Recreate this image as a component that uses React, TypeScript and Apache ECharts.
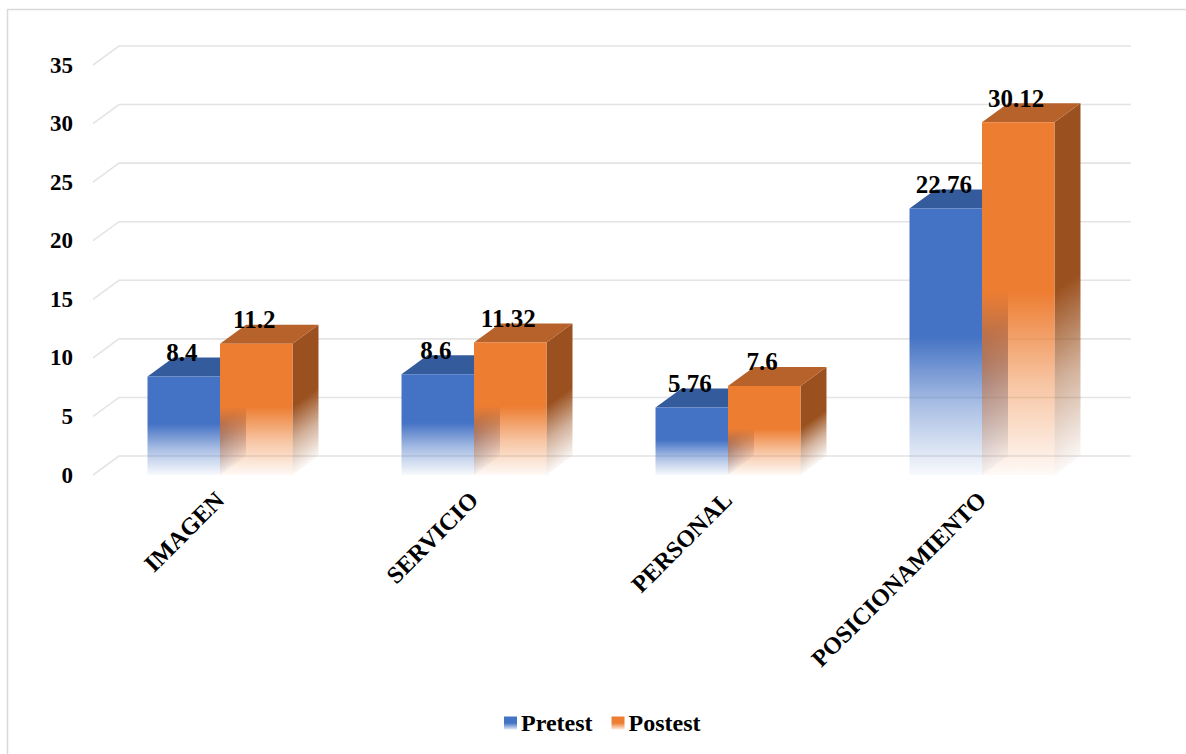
import React, { useEffect, useRef } from "react";
import * as echarts from "echarts";

// Category names and the two measured series
const categories = ["IMAGEN", "SERVICIO", "PERSONAL", "POSICIONAMIENTO"];
const pretest = [8.4, 8.6, 5.76, 22.76];
const postest = [11.2, 11.32, 7.6, 30.12];
const yTicks = [0, 5, 10, 15, 20, 25, 30, 35];

// 3D depth offset of the bars and back wall (px)
const DX = 26;
const DY = -19;
const BAR_RATIO = 0.2854;
const FONT = '"Liberation Serif", "Times New Roman", serif';

const BLUE = { front: [68, 114, 196], top: "#345b9c", side: [46, 80, 144] };
const ORANGE = { front: [237, 125, 49], top: "#b6622a", side: [155, 81, 31] };

const rgba = (c: number[], a: number) => `rgba(${c[0]},${c[1]},${c[2]},${a})`;

const fadeStops = (c: number[]) => [
  { offset: 0, color: rgba(c, 1) },
  { offset: 0.48, color: rgba(c, 1) },
  { offset: 0.74, color: rgba(c, 0.45) },
  { offset: 1, color: rgba(c, 0.04) },
];

function barRenderer(slot: number, pal: typeof BLUE) {
  return (params: any, api: any) => {
    const cat = api.value(0);
    const val = api.value(1);
    const base = api.coord([cat, 0]);
    const top = api.coord([cat, val]);
    const band = api.size([1, 0])[0];
    const w = band * BAR_RATIO;
    const x0 = base[0] - w + slot * w;
    const x1 = x0 + w;
    const yT = top[1];
    const yB = base[1];
    const h = yB - yT;
    const L2 = DX * DX + DY * DY;
    const k = (h * DX) / L2;
    const sideGrad = new echarts.graphic.LinearGradient(
      x1,
      yT,
      x1 - DY * k,
      yT + DX * k,
      fadeStops(pal.side),
      true
    );
    const frontGrad = new echarts.graphic.LinearGradient(0, 0, 0, 1, fadeStops(pal.front));
    return {
      type: "group",
      children: [
        {
          type: "polygon",
          shape: {
            points: [
              [x1, yT],
              [x1 + DX, yT + DY],
              [x1 + DX, yB + DY],
              [x1, yB],
            ],
          },
          style: { fill: sideGrad },
        },
        {
          type: "polygon",
          shape: {
            points: [
              [x0, yT],
              [x1, yT],
              [x1 + DX, yT + DY],
              [x0 + DX, yT + DY],
            ],
          },
          style: { fill: pal.top },
        },
        {
          type: "rect",
          shape: { x: x0, y: yT, width: w, height: h },
          style: { fill: frontGrad },
        },
        {
          type: "text",
          z2: 100,
          style: {
            text: String(val),
            x: (x0 + x1) / 2 - 2,
            y: yT - 24,
            align: "center",
            verticalAlign: "middle",
            fontSize: 25,
            fontWeight: "bold",
            fontFamily: FONT,
            fill: "#000",
          },
        },
      ],
    };
  };
}

export default function App() {
  const ref = useRef<HTMLDivElement>(null);

  useEffect(() => {
    if (!ref.current) return;
    const chart = echarts.init(ref.current, undefined, { renderer: "svg" });

    const legendGrad = (c: number[]) =>
      new echarts.graphic.LinearGradient(0, 0, 0, 1, [
        { offset: 0, color: rgba(c, 1) },
        { offset: 0.5, color: rgba(c, 1) },
        { offset: 1, color: rgba(c, 0.15) },
      ]);

    chart.setOption({
      animation: false,
      backgroundColor: "#fff",
      graphic: [
        {
          type: "rect",
          silent: true,
          z: -10,
          shape: { x: 7.5, y: 9.5, width: 1200, height: 800 },
          style: { fill: "none", stroke: "#d9d9d9", lineWidth: 1.5 },
        },
      ],
      grid: { left: 93, right: 77, top: 65, bottom: 279 },
      legend: {
        data: ["Pretest", "Postest"],
        left: 499,
        top: 706,
        icon: "rect",
        itemWidth: 13,
        itemHeight: 13,
        itemGap: 19,
        textStyle: {
          fontSize: 24,
          fontWeight: "bold",
          fontFamily: FONT,
          color: "#000",
          padding: [0, 0, 0, -1],
        },
      },
      xAxis: {
        type: "category",
        data: categories,
        axisLine: { show: false },
        axisTick: { show: false },
        splitLine: { show: false },
        axisLabel: {
          rotate: 45,
          margin: 21,
          interval: 0,
          fontSize: 24,
          fontWeight: "bold",
          fontFamily: FONT,
          color: "#000",
        },
      },
      yAxis: {
        type: "value",
        min: 0,
        max: 35,
        interval: 5,
        axisLine: { show: false },
        axisTick: { show: false },
        splitLine: { show: false },
        axisLabel: {
          margin: 20,
          fontSize: 23,
          fontWeight: "bold",
          fontFamily: FONT,
          color: "#000",
        },
      },
      series: [
        {
          type: "custom",
          silent: true,
          data: yTicks.map((v) => [0, v]),
          renderItem: (params: any, api: any) => {
            const y = api.coord([0, api.value(1)])[1];
            const cs = params.coordSys;
            return {
              type: "polyline",
              shape: {
                points: [
                  [cs.x, y],
                  [cs.x + DX, y + DY],
                  [cs.x + cs.width + DX - 4, y + DY],
                ],
              },
              style: { stroke: "#e4e4e4", lineWidth: 1.6, fill: null },
            };
          },
        },
        {
          name: "Pretest",
          type: "custom",
          itemStyle: { color: legendGrad(BLUE.front) },
          data: pretest.map((v, i) => [i, v]),
          renderItem: barRenderer(0, BLUE),
        },
        {
          name: "Postest",
          type: "custom",
          itemStyle: { color: legendGrad(ORANGE.front) },
          data: postest.map((v, i) => [i, v]),
          renderItem: barRenderer(1, ORANGE),
        },
      ],
    });

    return () => chart.dispose();
  }, []);

  return (
    <div
      ref={ref}
      style={{ position: "fixed", left: 0, top: 0, width: 1186, height: 754 }}
    />
  );
}
